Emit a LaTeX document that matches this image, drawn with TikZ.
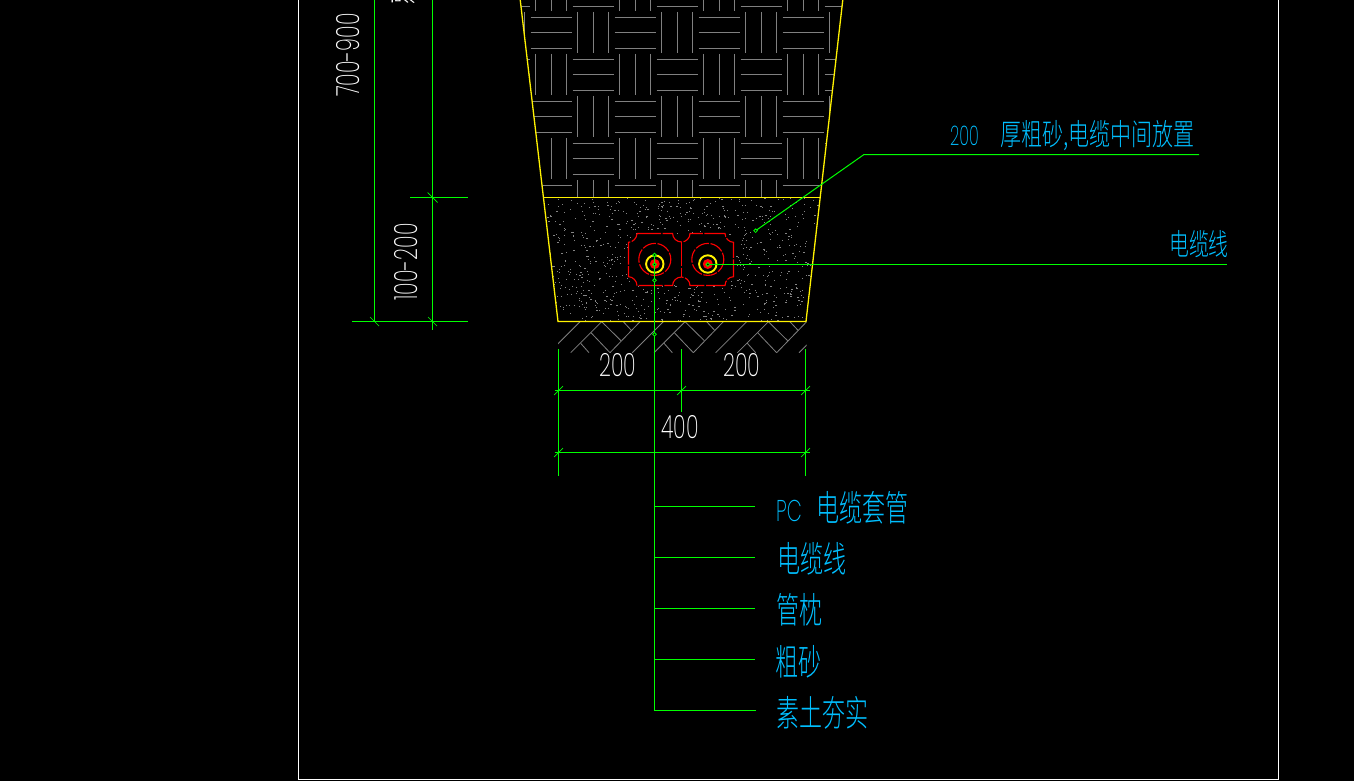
\documentclass[tikz,border=0pt]{standalone}
\usepackage{fontspec}
\setmainfont{Liberation Sans}
\newfontfamily\dgfont{Poppins ExtraLight}
\newfontfamily\cjkfont{Noto Sans CJK SC Light}
\definecolor{cadgreen}{RGB}{0,255,0}
\definecolor{cadblue}{RGB}{0,191,255}
\definecolor{cadgray}{RGB}{128,128,128}
\definecolor{sandgray}{RGB}{132,132,132}
\newcommand{\dgtxt}[1]{\scalebox{.65}[1]{\fontsize{32}{32}\selectfont\dgfont #1}}
\newcommand{\lbl}[1]{\scalebox{.64}[1]{\fontsize{36}{36}\selectfont\cjkfont #1}}
\tikzset{
  dimline/.style={cadgreen,line width=1pt},
  leaderline/.style={cadgreen,line width=1pt},
  hatchline/.style={cadgray,line width=1pt},
  hatchdiag/.style={cadgray,line width=.8pt},
  yellowline/.style={yellow,line width=1.3pt},
  redline/.style={red,line width=1.1pt,dash pattern=on 24pt off 1.6pt},
  whitetxt/.style={text=white,inner sep=0pt},
  bluetxt/.style={text=cadblue,inner sep=0pt,anchor=west},
  endmark/.style={cadgreen,line width=.8pt,fill=black}
}
\begin{document}
\begin{tikzpicture}[x=1pt,y=-1pt]
\useasboundingbox (0,0) rectangle (1354,781);
\clip (0,0) rectangle (1354,781);
\fill[black] (0,0) rectangle (1354,781);
% frame
\draw[white,line width=1pt] (298.5,-5) -- (298.5,779.5) -- (1278.5,779.5) -- (1278.5,-5);
% weave backfill
\begin{scope}
\clip (520,0) -- (558,321) -- (806,321) -- (843,0) -- cycle;
\clip (500,0) rectangle (860,197);
\foreach \i in {-1,...,7}{
  \foreach \j in {-1,...,4}{
    \pgfmathtruncatemacro{\wpar}{mod(\i+\j+10,2)}
    \pgfmathsetmacro{\xl}{530+42*\i}
    \pgfmathsetmacro{\yt}{12+42*\j}
    \ifnum\wpar=0
      \foreach \o in {5.5,20.5,36.5}{
        \draw[hatchline] (\xl+.7,\yt+\o) -- (\xl+42,\yt+\o);
      }
    \else
      \foreach \o in {5.5,21.5,36.5}{
        \draw[hatchline] (\xl+\o,\yt) -- (\xl+\o,\yt+41.3);
      }
    \fi
  }
}
\end{scope}
% sand dots
\begin{scope}
\clip (543.4,197) -- (558,321) -- (806,321) -- (820.3,197) -- cycle;
\pgfmathsetseed{7}
\foreach \n in {1,...,930}{
  \pgfmathtruncatemacro{\dx}{543+278*rnd}
  \pgfmathtruncatemacro{\dy}{198+123*rnd}
  \pgfmathtruncatemacro{\dw}{1+int(mod(\n,5)==0)}
  \fill[sandgray] (\dx,\dy) rectangle +(\dw,1);
}
\end{scope}
% ground hatching
\begin{scope}
\clip (558,321) rectangle (806.5,352.7);
\foreach \k in {0,1,2,3}{
  \begin{scope}[xshift=83.33*\k]
    \draw[hatchdiag] (580,321.7) -- (549,352.7);
    \draw[hatchdiag] (601.7,321.7) -- (570.7,352.7);
    \draw[hatchdiag] (601.7,321.7) -- (621,340.7);
    \draw[hatchdiag] (591,332.7) -- (610,352.7);
    \draw[hatchdiag] (640,321.7) -- (610,352.7);
    \draw[hatchdiag] (623.3,321.7) -- (631.7,330.7);
    \draw[hatchdiag] (580.7,343.3) -- (589,352.7);
  \end{scope}
}
\end{scope}
% trench outline
\draw[yellowline] (520,-2) -- (558,321.5) -- (806,321.5) -- (843,-2);
\draw[yellowline] (543.4,197.5) -- (820.3,197.5);
% pipe pillow
\fill[black] (637,233.5) -- (672.6,233.5) .. controls (672.6,238.1) and (676.5,242) .. (681.5,242) .. controls (686.1,242) and (690,238.1) .. (690,233.5) -- (725,233.5) .. controls (725,238.1) and (728.9,242.3) .. (733.5,242.3) -- (733.5,276.7) .. controls (728.9,276.7) and (725,280.9) .. (725,285.5) -- (690,285.5) .. controls (690,280.9) and (686.1,277) .. (681.5,277) .. controls (676.5,277) and (672.6,280.9) .. (672.6,285.5) -- (637,285.5) .. controls (637,280.9) and (632.8,276.7) .. (628.5,276.7) -- (628.5,242.3) .. controls (632.8,242.3) and (637,238.1) .. (637,233.5) -- cycle;
\draw[redline] (637,233.5) -- (672.6,233.5) .. controls (672.6,238.1) and (676.5,242) .. (681.5,242) .. controls (686.1,242) and (690,238.1) .. (690,233.5) -- (725,233.5) .. controls (725,238.1) and (728.9,242.3) .. (733.5,242.3) -- (733.5,276.7) .. controls (728.9,276.7) and (725,280.9) .. (725,285.5) -- (690,285.5) .. controls (690,280.9) and (686.1,277) .. (681.5,277) .. controls (676.5,277) and (672.6,280.9) .. (672.6,285.5) -- (637,285.5) .. controls (637,280.9) and (632.8,276.7) .. (628.5,276.7) -- (628.5,242.3) .. controls (632.8,242.3) and (637,238.1) .. (637,233.5) -- cycle;
\draw[redline] (681.5,242) -- (681.5,277);
\foreach \cx in {654.8,707.8}{
  \draw[red,line width=1.1pt,dash pattern=on 14pt off 1.6pt] (\cx,259.4) circle[radius=16];
  \fill[red] (\cx,264) circle[radius=5];
  \draw[yellow,line width=1.9pt] (\cx,264) circle[radius=8.7];
}
% coordinates for leaders
\coordinate (trunkTop) at (654.5,255);
\coordinate (trunkBot) at (654.5,710.5);
\coordinate (cableEnd) at (707.8,264.5);
\coordinate (cableFar) at (1227,264.5);
\coordinate (sandPt) at (755.6,230.7);
\coordinate (sandBend) at (864,154.5);
\coordinate (sandFar) at (1199,154.5);
% leaders
\draw[leaderline] (trunkTop) -- (trunkBot) -- (755.5,710.5);
\foreach \yy in {506.5,557.5,608.5,659.5}{
  \draw[leaderline] (654.5,\yy) -- (755,\yy);
}
\draw[leaderline] (cableEnd) -- (cableFar);
\draw[leaderline] (sandPt) -- (sandBend) -- (sandFar);
\foreach \p in {(654.5,255),(654.5,264.5),(654.5,280.3),(654.5,334.3),(707.8,264.5),(755.6,230.7)}{
  \draw[endmark] \p circle[radius=1.8];
}
% left dimensions
\draw[dimline] (374.5,-2) -- (374.5,321.5);
\draw[dimline] (432.5,-2) -- (432.5,330);
\draw[dimline] (410,197.5) -- (468,197.5);
\draw[dimline] (352,321.5) -- (468,321.5);
\draw[cadgreen,line width=.7pt] (427.5,192.5) -- (437.5,202.5);
\draw[cadgreen,line width=.7pt] (370,317) -- (379,326);
\draw[cadgreen,line width=.7pt] (428,317) -- (437,326);
% bottom dimensions
\draw[dimline] (558.5,349) -- (558.5,475.7);
\draw[dimline] (805.5,349) -- (805.5,475.7);
\draw[dimline] (681.5,349) -- (681.5,412.4);
\draw[dimline] (554.5,390.5) -- (809.5,390.5);
\draw[dimline] (554.5,452.5) -- (809.5,452.5);
\foreach \xx/\yy in {558.5/390.5,681.5/390.5,805.5/390.5,558.5/452.5,805.5/452.5}{
  \draw[cadgreen,line width=.7pt] (\xx-4.4,\yy+4.4) -- (\xx+4.4,\yy-4.4);
}
% white dimension text
\node[whitetxt] (dimA) at (618,365) {\dgtxt{200}};
\node[whitetxt] (dimB) at (742,365) {\dgtxt{200}};
\node[whitetxt] (dimC) at (680,427) {\dgtxt{400}};
\node[whitetxt,rotate=90] (dimD) at (348.5,55) {\dgtxt{700-900}};
\node[whitetxt,rotate=90] (dimE) at (406.5,262) {\dgtxt{100-200}};
\node[whitetxt,rotate=90,anchor=west] (dimF) at (406.5,5) {\lbl{覆土}};
% blue labels
\node[bluetxt] (noteA) at (950,136) {\scalebox{.6}[1]{\fontsize{27}{27}\selectfont\dgfont 200}\hspace{21.5pt}\scalebox{.7}[1]{\fontsize{30}{30}\selectfont\cjkfont 厚粗砂,电缆中间放置}};
\node[bluetxt] (noteB) at (1169,244) {\scalebox{.66}[1]{\fontsize{30}{30}\selectfont\cjkfont 电缆线}};
\node[bluetxt] (labA) at (776,508) {\scalebox{.65}[1]{\fontsize{30}{30}\selectfont\dgfont PC}\hspace{14.5pt}\lbl{电缆套管}};
\node[bluetxt] (labB) at (777,559) {\lbl{电缆线}};
\node[bluetxt] (labC) at (776.5,610) {\lbl{管枕}};
\node[bluetxt] (labD) at (775.5,661.5) {\lbl{粗砂}};
\node[bluetxt] (labE) at (776.5,713) {\lbl{素土夯实}};
\end{tikzpicture}
\end{document}
